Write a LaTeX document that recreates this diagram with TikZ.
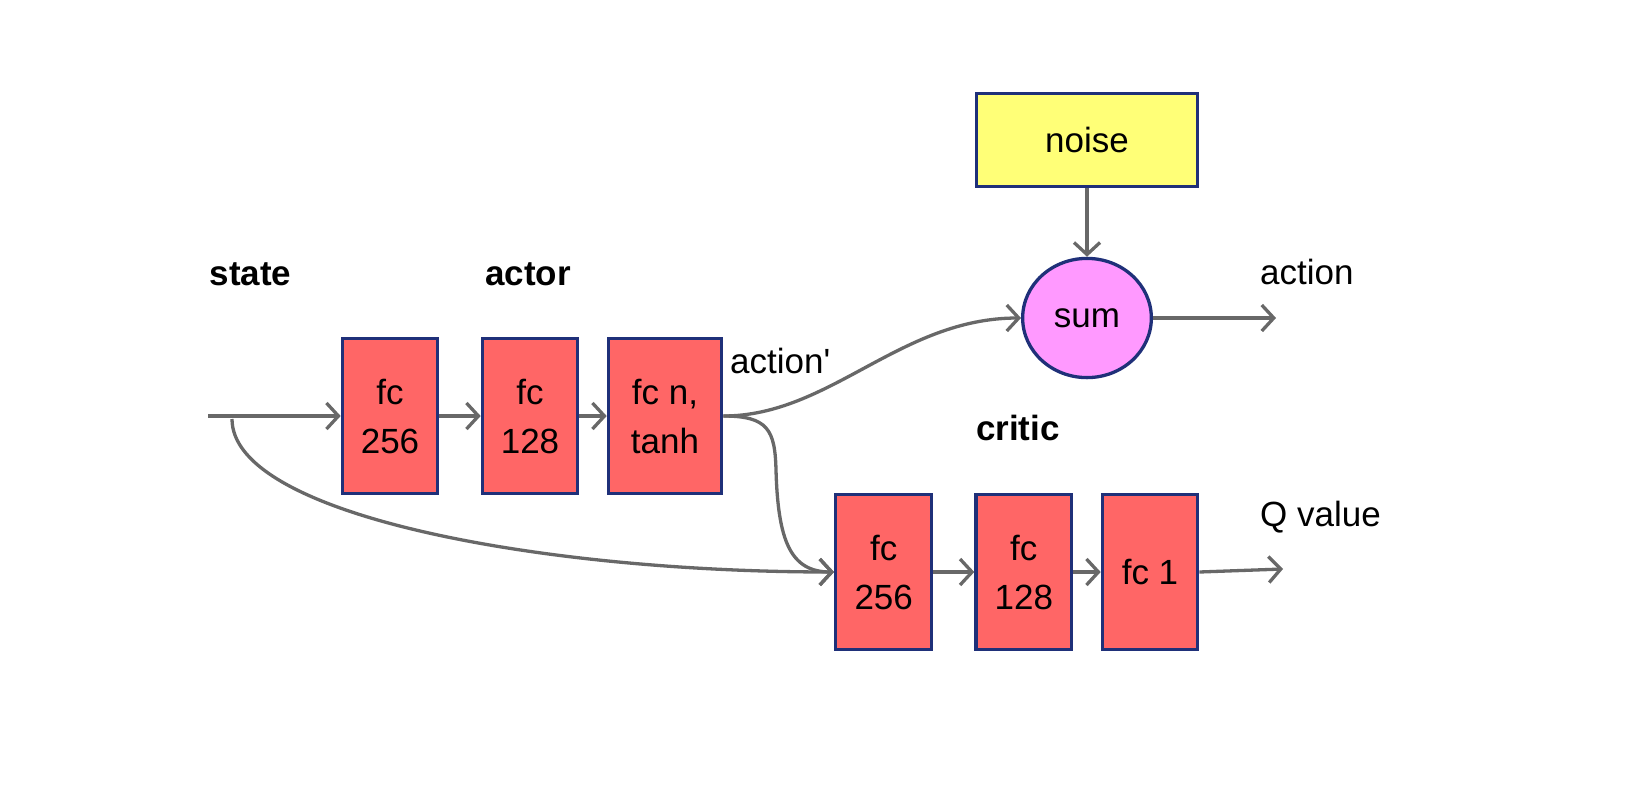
\documentclass[tikz,border=0pt]{standalone}
\usepackage{fontspec}
\setmainfont{Liberation Sans}[Ligatures=TeXOff]
\usetikzlibrary{arrows.meta,shapes.geometric}
\definecolor{edgeblue}{HTML}{1F3079}
\definecolor{boxred}{HTML}{FF6666}
\definecolor{noiseyellow}{HTML}{FFFF77}
\definecolor{sumpink}{HTML}{FF99FF}
\definecolor{linegray}{HTML}{686868}
\begin{document}
\begin{tikzpicture}[x=1pt,y=-1pt,
  every node/.style={font=\fontsize{35}{49}\selectfont},
  fcbox/.style={draw=edgeblue,line width=3.3pt,fill=boxred,minimum height=155pt,align=center,inner sep=0pt},
  lbl/.style={font=\fontsize{35}{49}\selectfont\bfseries},
  conn/.style={draw=linegray,line width=3.3pt,-{Straight Barb[length=12pt,width=26pt,line width=3.3pt]}}
]
\useasboundingbox (0,0) rectangle (1642,796);
% actor
\node[fcbox,minimum width=95.3pt] (a1) at (390,416) {fc\\256};
\node[fcbox,minimum width=95.3pt] (a2) at (530,416) {fc\\128};
\node[fcbox,minimum width=113.3pt] (a3) at (665,416) {fc n,\\tanh};
% critic
\node[fcbox,minimum width=96pt] (c1) at (883.7,572) {fc\\256};
\node[fcbox,minimum width=95.7pt] (c2) at (1023.8,572) {fc\\128};
\node[fcbox,minimum width=95.3pt] (c3) at (1150,572) {fc 1};
% noise and sum
\node[draw=edgeblue,line width=3.3pt,fill=noiseyellow,minimum width=221pt,minimum height=93.4pt,inner sep=0pt] (noise) at (1087,140) {noise};
\node[ellipse,draw=edgeblue,line width=3.3pt,fill=sumpink,minimum width=128.7pt,minimum height=119.2pt,inner sep=0pt] (sum) at (1087,318) {sum};
% labels
\node[lbl] (lstate) at (250.5,274) {state};
\node[lbl] (lactor) at (528,274) {actor};
\node[lbl] (lcritic) at (1018,428) {critic};
\node[anchor=west,inner sep=0pt] (lactp) at (730,361) {action'};
\node[anchor=west,inner sep=0pt] (lact) at (1260,272) {action};
\node[anchor=west,inner sep=0pt] (lq) at (1260,517) {Q value};
% free ends
\coordinate (sin) at (208,416);
\coordinate (sbranch) at (232,419);
\coordinate (aout) at (1276,318);
\coordinate (qout) at (1283,569);
% connectors
\draw[conn] (sin) -- (a1.west);
\draw[conn] (a1) -- (a2);
\draw[conn] (a2) -- (a3);
\draw[conn] (a3.east) .. controls (830,416) and (900,318) .. (sum.west);
\draw[conn] (a3.east) .. controls (768,416) and (775,430) .. (776,470)
                      .. controls (778,540) and (790,572) .. (c1.west);
\draw[conn] (sbranch) .. controls (232,515) and (540,572) .. (c1.west);
\draw[conn] (noise) -- (sum);
\draw[conn] (sum.east) -- (aout);
\draw[conn] (c1) -- (c2);
\draw[conn] (c2) -- (c3);
\draw[conn] (c3.east) -- (qout);
\end{tikzpicture}
\end{document}
